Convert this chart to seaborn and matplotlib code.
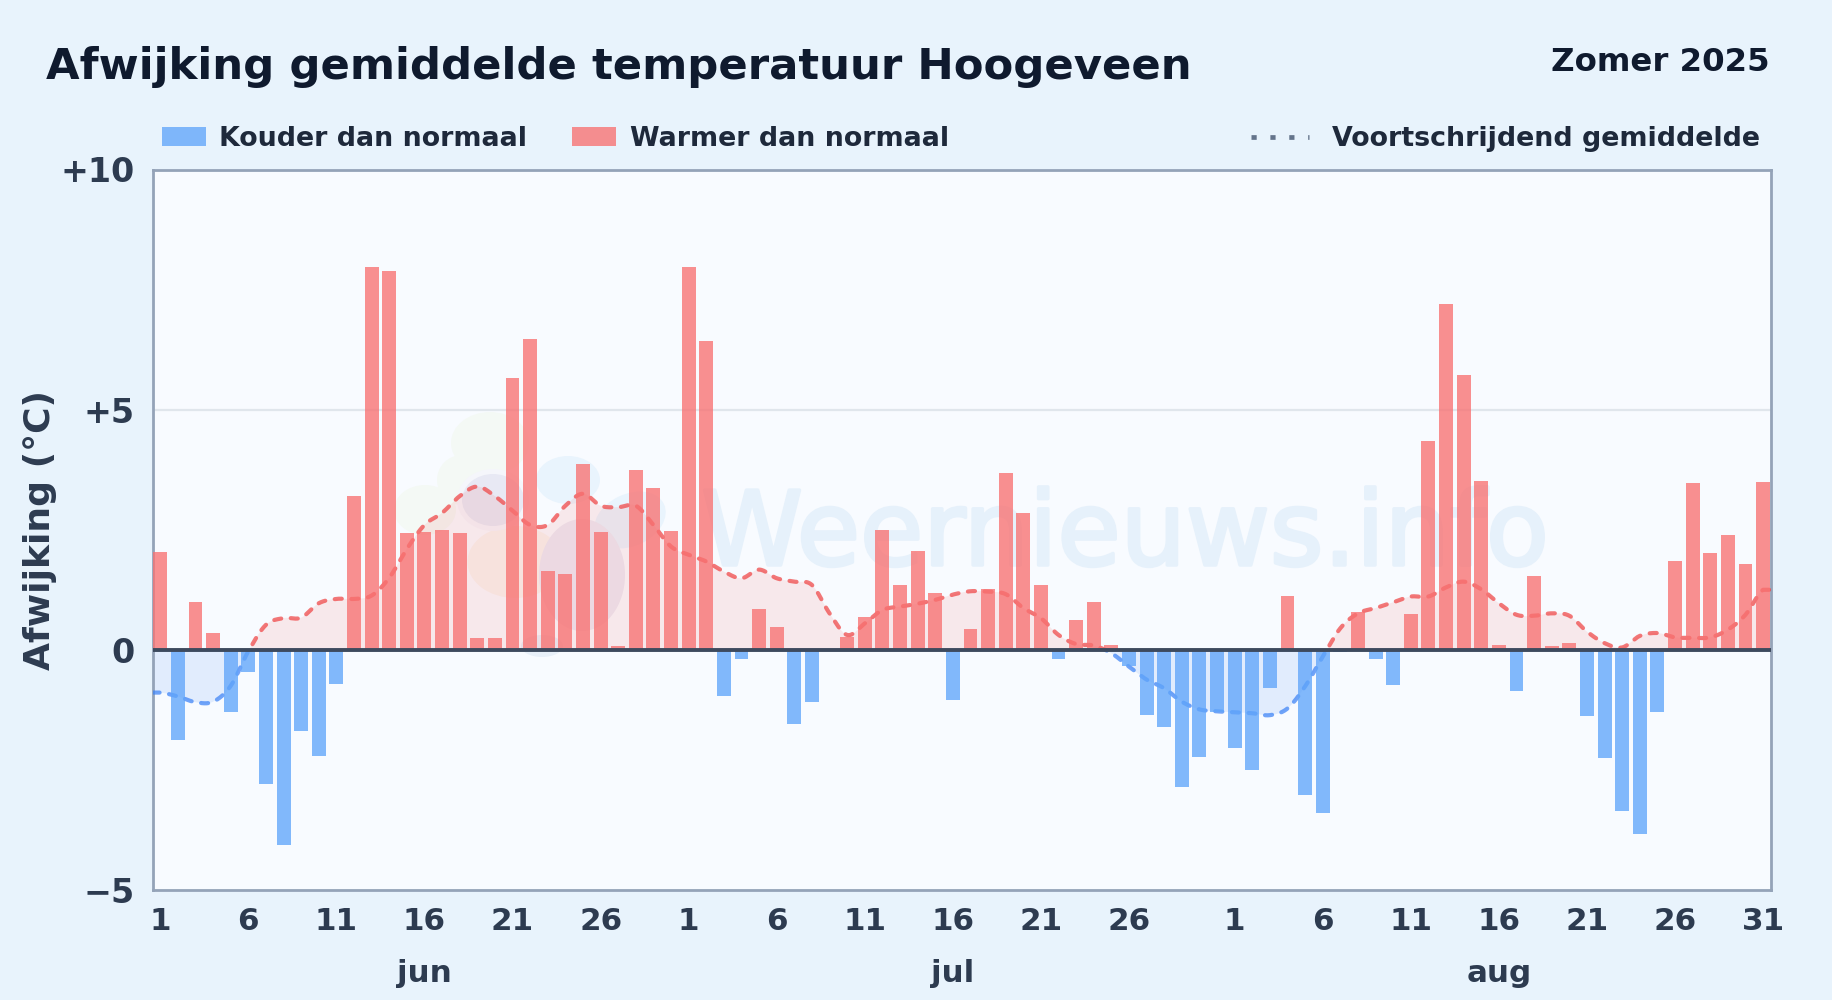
import numpy as np
import pandas as pd
import matplotlib
matplotlib.use('Agg')
import matplotlib.pyplot as plt
import matplotlib.patheffects as pe
from matplotlib.lines import Line2D
from matplotlib.patches import Ellipse, Patch, Rectangle
from matplotlib.transforms import IdentityTransform
import seaborn as sns

# Data
juni = [2.04, -1.87, 1.0, 0.35, -1.3, -0.47, -2.8, -4.07, -1.68, -2.22,
        -0.72, 3.2, 7.97, 7.88, 2.43, 2.46, 2.5, 2.44, 0.25, 0.25,
        5.65, 6.48, 1.65, 1.58, 3.86, 2.46, 0.08, 3.75, 3.36, 2.48]
juli = [7.96, 6.43, -0.96, -0.19, 0.85, 0.48, -1.54, -1.08, 0.0, 0.27,
        0.69, 2.5, 1.35, 2.06, 1.19, -1.04, 0.44, 1.27, 3.69, 2.85,
        1.35, -0.19, 0.62, 1.0, 0.1, -0.33, -1.35, -1.6, -2.85, -2.24, -1.29]
augustus = [-2.04, -2.51, -0.79, 1.12, -3.02, -3.39, -0.05, 0.79, -0.19, -0.74,
            0.75, 4.35, 7.21, 5.73, 3.52, 0.1, -0.85, 1.54, 0.08, 0.15,
            -1.37, -2.26, -3.35, -3.83, -1.29, 1.85, 3.48, 2.02, 2.4, 1.79, 3.5]
gemiddelde = [-0.89, -0.97, -1.09, -1.08, -0.75, -0.03, 0.52, 0.66, 0.67, 0.97,
              1.06, 1.06, 1.13, 1.5, 2.1, 2.6, 2.85, 3.2, 3.4, 3.2,
              2.9, 2.6, 2.6, 3.0, 3.25, 3.0, 2.97, 3.0, 2.6, 2.15,
              1.98, 1.84, 1.63, 1.49, 1.67, 1.49, 1.42, 1.35, 0.76, 0.31,
              0.55, 0.83, 0.9, 0.96, 1.04, 1.15, 1.22, 1.21, 1.16, 0.87,
              0.66, 0.31, 0.12, 0.09, -0.07, -0.35, -0.62, -0.8, -1.08, -1.24, -1.28,
              -1.3, -1.32, -1.36, -1.22, -0.76, -0.14, 0.45, 0.76, 0.87, 0.99,
              1.11, 1.11, 1.3, 1.42, 1.26, 0.97, 0.73, 0.71, 0.76, 0.71,
              0.38, 0.14, 0.05, 0.29, 0.35, 0.26, 0.25, 0.26, 0.42, 0.73, 1.25]
maanden = ['jun', 'jul', 'aug']
dagen_per_maand = [len(juni), len(juli), len(augustus)]
dag_ticks = [1, 6, 11, 16, 21, 26]
y_ticks = [-5, 0, 5, 10]
y_labels = ['\u22125', '0', '+5', '+10']

DONKER = '#0f1a2e'
TEKST = '#2d3b50'
ACHTERGROND = '#e8f3fc'

W, H = 1832, 1000
sns.set_theme(style='white')
plt.rcParams['font.family'] = ['DejaVu Sans']

afwijking = juni + juli + augustus
df = pd.DataFrame({'dag': range(len(afwijking)), 'afwijking': afwijking})
df['soort'] = np.where(df['afwijking'] < 0, 'koud', 'warm')

fig = plt.figure(figsize=(W / 100, H / 100), dpi=100, facecolor=ACHTERGROND)
ax = fig.add_axes([152.5 / W, 1 - 890 / H, 1618.5 / W, 720.5 / H], facecolor='#f8fbff')

# Bars
sns.barplot(data=df, x='dag', y='afwijking', hue='soort', dodge=False, width=0.79,
            palette={'koud': '#60a5fa', 'warm': '#f87171'}, alpha=0.78, saturation=1,
            linewidth=0, legend=False, ax=ax, zorder=4)
links_x, rechts_x = -0.44, len(afwijking) - 0.55
ax.set_xlim(links_x, rechts_x)
ax.set_ylim(-5, 10)


# Smooth curve through the daily values (Catmull-Rom), only for drawing
def smooth(y, n=16):
    y = np.asarray(y, dtype=float)
    p = np.concatenate([[y[0]], y, [y[-1]]])
    t = np.linspace(0, 1, n, endpoint=False)[:, None]
    p0, p1, p2, p3 = p[:-3], p[1:-2], p[2:-1], p[3:]
    c = 0.5 * (2 * p1 + (p2 - p0) * t + (2 * p0 - 5 * p1 + 4 * p2 - p3) * t ** 2
               + (3 * p1 - p0 - 3 * p2 + p3) * t ** 3)
    ys = np.append(c.T.ravel(), y[-1])
    xs = np.linspace(0, len(y) - 1, len(ys))
    return xs, ys


xs, ys = smooth(gemiddelde)
# the curve runs on to the frame on both sides
xs = np.concatenate([[links_x], xs, [rechts_x]])
ys = np.concatenate([[ys[0]], ys, [ys[-1]]])
ax.fill_between(xs, 0, ys, where=ys >= 0, interpolate=True, color='#ef4444', alpha=0.1, lw=0, zorder=2)
ax.fill_between(xs, 0, ys, where=ys <= 0, interpolate=True, color='#3b82f6', alpha=0.12, lw=0, zorder=2)

# Moving average: same curve twice, clipped at zero
for kleur, y0, hoogte in [('#ef4444', 0, 10), ('#3b82f6', -5, 5)]:
    sns.lineplot(x=xs, y=ys, color=kleur, estimator=None, sort=False, lw=3, alpha=0.72, ax=ax, zorder=3)
    lijn = ax.lines[-1]
    lijn.set_dashes((1.7, 2.3))
    lijn.set_dash_capstyle('round')
    lijn.set_clip_path(Rectangle((links_x, y0), rechts_x - links_x, hoogte, transform=ax.transData))


# Faint logo and watermark behind everything
def blob(px, py, w, h, kleur, angle=0):
    ax.add_patch(Ellipse((px, H - py), w, h, angle=angle, facecolor=kleur, edgecolor='none',
                         transform=IdentityTransform(), zorder=1))


blob(490, 443, 78, 62, '#f4f9f5')
blob(425, 510, 62, 50, '#f4f9f5')
blob(462, 480, 50, 50, '#f4f9f5')
blob(515, 562, 95, 72, '#f8f5ef')
blob(568, 480, 64, 48, '#e9f4fd')
blob(630, 520, 75, 52, '#e9f4fd', 25)
blob(582, 575, 86, 112, '#ecebf4')
blob(493, 500, 72, 62, '#f5f6fb')
blob(493, 500, 62, 52, '#e8e9f4')
blob(542, 646, 42, 22, '#e8f0f9')
ax.text(1125, H - 565, 'Weernieuws.info', transform=IdentityTransform(), fontsize=74,
        color='#e6f1fb', ha='center', va='baseline', zorder=1, clip_on=True,
        path_effects=[pe.withStroke(linewidth=2.5, foreground='#e6f1fb')])

# Grid and zero line
ax.axhline(5, color='#e0e6ec', lw=1.6, zorder=1.5)
ax.axhline(0, color='#3d4a5e', lw=2.8, zorder=5)

for s in ax.spines.values():
    s.set_color('#94a3b8')
    s.set_linewidth(2)
    s.set_visible(True)

# Axis labels
ax.set_yticks(y_ticks, y_labels, fontsize=24, fontweight='bold', color=TEKST)
start = np.cumsum([0] + dagen_per_maand[:-1])
tick_pos = [b + d - 1 for b in start for d in dag_ticks] + [len(afwijking) - 1]
tick_lab = [str(d) for _ in start for d in dag_ticks] + [str(dagen_per_maand[-1])]
ax.set_xticks(tick_pos, tick_lab, fontsize=22.3, fontweight='bold', color=TEKST)
ax.tick_params(axis='x', length=0, pad=12.5)
ax.tick_params(axis='y', length=0, pad=13)
ax.set_xlabel('')
ax.set_ylabel('')
fig.text(40 / W, 1 - 530 / H, 'Afwijking (\u00b0C)', rotation=90, fontsize=26, fontweight='bold',
         color=TEKST, ha='center', va='center')

for maand, b, n in zip(maanden, start, dagen_per_maand):
    ax.annotate(maand, (b + n // 2, 0), xycoords=('data', 'figure fraction'), xytext=(0, 19),
                textcoords='offset points', fontsize=22.3, fontweight='bold', color=TEKST,
                ha='center', va='center', annotation_clip=False)

# Titles
fig.text(46 / W, 1 - 79 / H, 'Afwijking gemiddelde temperatuur Hoogeveen', fontsize=31.2,
         fontweight='bold', color=DONKER, ha='left', va='baseline')
fig.text(1770 / W, 1 - 71 / H, 'Zomer 2025', fontsize=23.3, fontweight='bold', color=DONKER,
         ha='right', va='baseline')

# Legends
tekst = {'size': 19.35, 'weight': 'bold'}
links = fig.legend(handles=[Patch(color='#60a5fa', alpha=0.78, lw=0, label='Kouder dan normaal'),
                            Patch(color='#f87171', alpha=0.78, lw=0, label='Warmer dan normaal')],
                   loc='center left', bbox_to_anchor=(162 / W, 1 - 139 / H), ncol=2, frameon=False,
                   prop=tekst, labelcolor='#1e293b', handlelength=1.63, handleheight=0.7,
                   handletextpad=0.5, columnspacing=1.68, borderpad=0, borderaxespad=0)
rechts = fig.legend(handles=[Line2D([], [], color='#64748b', lw=3.4, linestyle=(0, (1.1, 2.9)),
                                    label='Voortschrijdend gemiddelde')],
                    loc='center right', bbox_to_anchor=(1760 / W, 1 - 139 / H), frameon=False,
                    prop=tekst, labelcolor='#1e293b', handlelength=2.15, handletextpad=0.85,
                    borderpad=0, borderaxespad=0)

fig.savefig('out.png', dpi=100, facecolor=ACHTERGROND)
